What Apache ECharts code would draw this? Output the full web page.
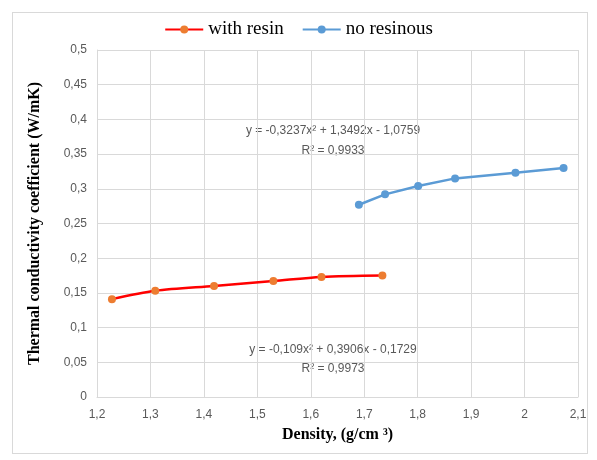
<!DOCTYPE html>
<html><head><meta charset="utf-8">
<script src="https://cdn.jsdelivr.net/npm/echarts@6/dist/echarts.min.js"></script>
<style>html,body{margin:0;padding:0;background:#fff}
#frame{position:absolute;left:12px;top:12px;width:576px;height:442px;border:1px solid #d9d9d9;box-sizing:border-box}
#c{position:absolute;left:0;top:0;width:597px;height:460px}</style>
</head><body><div id="frame"></div><div id="c"></div>
<script>
const resinX = [1.228, 1.309, 1.419, 1.530, 1.620, 1.734];
const resinY = [0.141, 0.153, 0.160, 0.167, 0.173, 0.175];
const noResinX = [1.690, 1.739, 1.801, 1.870, 1.983, 2.073];
const noResinY = [0.277, 0.292, 0.304, 0.315, 0.323, 0.330];
const seriesNames = ['with resin', 'no resinous'];
const eqResin = ['y = -0,109x² + 0,3906x - 0,1729', 'R² = 0,9973'];
const eqNoResin = ['y = -0,3237x² + 1,3492x - 1,0759', 'R² = 0,9933'];

const chart = echarts.init(document.getElementById('c'));
const fmt = v => String(Math.round(v*100)/100).replace('.', ',');
const lblFont = {color:'#595959', fontSize:12, fontFamily:'Liberation Sans'};
const txt = (t, x, y) => ({type:'text', x:x, y:y, style:{text:t, fill:'#595959', font:'12px "Liberation Sans"', textAlign:'center', textVerticalAlign:'middle'}});
chart.setOption({
  animation:false,
  legend:{top:15, left:'center', itemWidth:38, itemHeight:10, itemGap:18,
    textStyle:{fontFamily:'Liberation Serif', fontSize:19, color:'#000'},
    data:seriesNames},
  grid:{left:97, right:19, top:50, bottom:63},
  xAxis:{type:'value', min:1.2, max:2.1, interval:0.1,
    name:'Density, (g/cm ³)', nameLocation:'middle', nameGap:30,
    nameTextStyle:{fontFamily:'Liberation Serif', fontWeight:'bold', fontSize:16, color:'#000'},
    axisLine:{show:true, lineStyle:{color:'#d9d9d9'}}, axisTick:{show:false},
    axisLabel:Object.assign({formatter:fmt, margin:12}, lblFont),
    splitLine:{show:true, lineStyle:{color:'#d9d9d9'}}},
  yAxis:{type:'value', min:0, max:0.5, interval:0.05,
    name:'Thermal conductivity coefficient (W/mK)', nameLocation:'middle', nameGap:54,
    nameTextStyle:{fontFamily:'Liberation Serif', fontWeight:'bold', fontSize:16, color:'#000'},
    axisLine:{show:true, lineStyle:{color:'#d9d9d9'}}, axisTick:{show:false},
    axisLabel:Object.assign({formatter:fmt, margin:10}, lblFont),
    splitLine:{show:true, lineStyle:{color:'#d9d9d9'}}},
  series:[
    {name:seriesNames[0], type:'line', smooth:0.3, symbol:'circle', symbolSize:8,
      data:resinX.map((x,i)=>[x,resinY[i]]),
      lineStyle:{color:'#ff0000', width:2.5}, itemStyle:{color:'#ed7d31'}},
    {name:seriesNames[1], type:'line', smooth:false, symbol:'circle', symbolSize:8,
      data:noResinX.map((x,i)=>[x,noResinY[i]]),
      lineStyle:{color:'#5b9bd5', width:2.5}, itemStyle:{color:'#5b9bd5'}}
  ],
  graphic:[
    txt(eqNoResin[0], 333, 131), txt(eqNoResin[1], 333, 151),
    txt(eqResin[0], 333, 350), txt(eqResin[1], 333, 369)
  ]
});
</script></body></html>
